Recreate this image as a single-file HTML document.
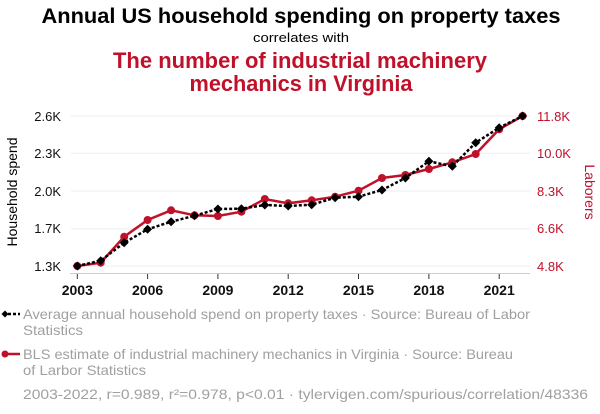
<!DOCTYPE html>
<html><head><meta charset="utf-8"><style>
html,body{margin:0;padding:0;background:#fff;width:600px;height:414px;overflow:hidden}
svg{display:block;font-family:"Liberation Sans",Arial,sans-serif}
</style></head><body>
<svg width="600" height="414" viewBox="0 0 600 414">
<text x="301" y="23" text-anchor="middle" font-size="21.5" font-weight="bold" fill="#000" textLength="519" lengthAdjust="spacingAndGlyphs">Annual US household spending on property taxes</text>
<text x="301" y="42" text-anchor="middle" font-size="13" fill="#000" textLength="96" lengthAdjust="spacingAndGlyphs">correlates with</text>
<text x="300" y="68" text-anchor="middle" font-size="22.5" font-weight="bold" fill="#c0112b" textLength="374" lengthAdjust="spacingAndGlyphs">The number of industrial machinery</text>
<text x="301" y="91" text-anchor="middle" font-size="22.5" font-weight="bold" fill="#c0112b" textLength="223" lengthAdjust="spacingAndGlyphs">mechanics in Virginia</text>
<g stroke="#eee" stroke-width="1">
<line x1="71" x2="530" y1="116" y2="116"/><line x1="71" x2="530" y1="153.3" y2="153.3"/><line x1="71" x2="530" y1="191" y2="191"/><line x1="71" x2="530" y1="228.7" y2="228.7"/><line x1="71" x2="530" y1="266" y2="266"/>
</g>
<line x1="70" x2="530" y1="273.5" y2="273.5" stroke="#ccc"/>
<g stroke="#333" stroke-width="1">
<line x1="77.3" x2="77.3" y1="274" y2="279"/><line x1="147.6" x2="147.6" y1="274" y2="279"/><line x1="217.9" x2="217.9" y1="274" y2="279"/><line x1="288.2" x2="288.2" y1="274" y2="279"/><line x1="358.5" x2="358.5" y1="274" y2="279"/><line x1="428.9" x2="428.9" y1="274" y2="279"/><line x1="499.2" x2="499.2" y1="274" y2="279"/>
</g>
<g font-size="14" font-weight="bold" fill="#111" text-anchor="middle">
<text x="77.3" y="295">2003</text><text x="147.6" y="295">2006</text><text x="217.9" y="295">2009</text><text x="288.2" y="295">2012</text><text x="358.5" y="295">2015</text><text x="428.9" y="295">2018</text><text x="499.2" y="295">2021</text>
</g>
<g font-size="13" fill="#111" text-anchor="end">
<text x="61" y="121">2.6K</text><text x="61" y="158">2.3K</text><text x="61" y="196">2.0K</text><text x="61" y="233">1.7K</text><text x="61" y="271">1.3K</text>
</g>
<g font-size="13" fill="#c0112b">
<text x="537" y="121">11.8K</text><text x="537" y="158">10.0K</text><text x="537" y="196">8.3K</text><text x="537" y="233">6.6K</text><text x="537" y="271">4.8K</text>
</g>
<text transform="translate(17,192) rotate(-90)" text-anchor="middle" font-size="14" fill="#000">Household spend</text>
<text transform="translate(585,192) rotate(90)" text-anchor="middle" font-size="14" fill="#c0112b">Laborers</text>
<g fill="#c0112b">
<polyline fill="none" stroke="#c0112b" stroke-width="2.5" points="77.3,266 100.7,262.7 124.2,236.7 147.6,220 171.1,210.3 194.5,215.3 217.9,216 241.4,211.7 264.8,199 288.2,203.3 311.7,200.3 335.1,196.7 358.5,190.7 382,178 405.4,175 428.9,169 452.3,162.3 475.7,154 499.2,129.3 522.6,116"/>
<circle cx="77.3" cy="266" r="4"/><circle cx="100.7" cy="262.7" r="4"/><circle cx="124.2" cy="236.7" r="4"/><circle cx="147.6" cy="220" r="4"/><circle cx="171.1" cy="210.3" r="4"/><circle cx="194.5" cy="215.3" r="4"/><circle cx="217.9" cy="216" r="4"/><circle cx="241.4" cy="211.7" r="4"/><circle cx="264.8" cy="199" r="4"/><circle cx="288.2" cy="203.3" r="4"/><circle cx="311.7" cy="200.3" r="4"/><circle cx="335.1" cy="196.7" r="4"/><circle cx="358.5" cy="190.7" r="4"/><circle cx="382" cy="178" r="4"/><circle cx="405.4" cy="175" r="4"/><circle cx="428.9" cy="169" r="4"/><circle cx="452.3" cy="162.3" r="4"/><circle cx="475.7" cy="154" r="4"/><circle cx="499.2" cy="129.3" r="4"/><circle cx="522.6" cy="116" r="4"/>
</g>
<defs><path id="d" d="M0,-4.5L4.5,0L0,4.5L-4.5,0Z"/></defs>
<g fill="#000">
<polyline fill="none" stroke="#000" stroke-width="2.5" stroke-dasharray="3,2" points="77.3,266 100.7,260.7 124.2,242.7 147.6,229.3 171.1,221.7 194.5,215.7 217.9,209 241.4,208.7 264.8,205 288.2,206 311.7,204.7 335.1,197.7 358.5,196.7 382,190 405.4,178 428.9,161.3 452.3,166.3 475.7,142.7 499.2,127.7 522.6,116"/>
<use href="#d" x="77.3" y="266"/><use href="#d" x="100.7" y="260.7"/><use href="#d" x="124.2" y="242.7"/><use href="#d" x="147.6" y="229.3"/><use href="#d" x="171.1" y="221.7"/><use href="#d" x="194.5" y="215.7"/><use href="#d" x="217.9" y="209"/><use href="#d" x="241.4" y="208.7"/><use href="#d" x="264.8" y="205"/><use href="#d" x="288.2" y="206"/><use href="#d" x="311.7" y="204.7"/><use href="#d" x="335.1" y="197.7"/><use href="#d" x="358.5" y="196.7"/><use href="#d" x="382" y="190"/><use href="#d" x="405.4" y="178"/><use href="#d" x="428.9" y="161.3"/><use href="#d" x="452.3" y="166.3"/><use href="#d" x="475.7" y="142.7"/><use href="#d" x="499.2" y="127.7"/><use href="#d" x="522.6" y="116"/>
</g>
<line x1="3" x2="20" y1="314" y2="314" stroke="#000" stroke-width="2.5" stroke-dasharray="3,2"/>
<path d="M5,310.5L8.5,314L5,317.5L1.5,314Z" fill="#000"/>
<line x1="3" x2="20" y1="354" y2="354" stroke="#c0112b" stroke-width="2.5"/>
<circle cx="5" cy="354" r="3.5" fill="#c0112b"/>
<g font-size="14" fill="#a0a0a0">
<text x="23" y="319" textLength="507" lengthAdjust="spacingAndGlyphs">Average annual household spend on property taxes · Source: Bureau of Labor</text>
<text x="23" y="335" textLength="60" lengthAdjust="spacingAndGlyphs">Statistics</text>
<text x="23" y="359" textLength="490" lengthAdjust="spacingAndGlyphs">BLS estimate of industrial machinery mechanics in Virginia · Source: Bureau</text>
<text x="23" y="375" textLength="123" lengthAdjust="spacingAndGlyphs">of Larbor Statistics</text>
<text x="23" y="399" textLength="565" lengthAdjust="spacingAndGlyphs">2003-2022, r=0.989, r²=0.978, p&lt;0.01 · tylervigen.com/spurious/correlation/48336</text>
</g>
</svg>
</body></html>
